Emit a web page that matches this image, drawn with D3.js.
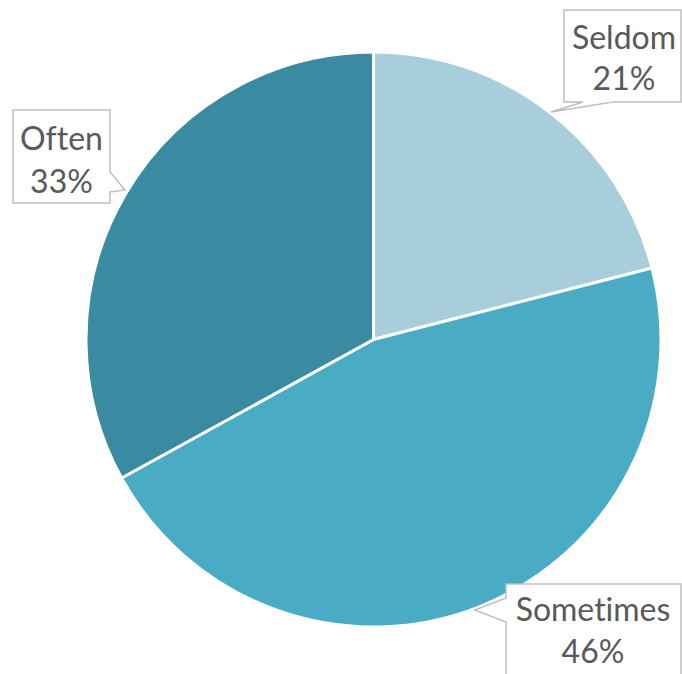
<!DOCTYPE html>
<html>
<head>
<meta charset="utf-8">
<script src="https://cdn.jsdelivr.net/npm/d3@7"></script>
<style>
  html, body { margin: 0; padding: 0; background: #fff; }
  svg { display: block; }
  text { font-variant-ligatures: none; font-feature-settings: "liga" 0; }
</style>
</head>
<body>
<svg id="chart" width="682" height="674"></svg>
<script>
// Survey answer shares (percent)
const categories = ["Seldom", "Sometimes", "Often"];
const values = [21, 46, 33];
const colors = ["#A8CEDC", "#4AABC5", "#3A8BA1"];

const width = 682, height = 674;
const cx = 373.5, cy = 339.5, radius = 287.5;

const svg = d3.select("#chart");

const pie = d3.pie().sort(null).value(d => d.value);
const arcs = pie(categories.map((c, i) => ({ name: c, value: values[i] })));
const arc = d3.arc().innerRadius(0).outerRadius(radius);

const g = svg.append("g").attr("transform", `translate(${cx},${cy})`);
g.selectAll("path.slice")
  .data(arcs)
  .join("path")
  .attr("class", "slice")
  .attr("d", arc)
  .attr("fill", (d, i) => colors[i])
  .attr("stroke", "#fff")
  .attr("stroke-width", 3)
  .attr("stroke-linejoin", "round");

// Callout boxes: rectangle with a small pointer towards the slice edge
const callouts = {
  Seldom:    { x0: 564, y0: 10,  x1: 681, y1: 102, side: "bottom", p: [583, 613], tip: [551, 112], tx: 624, ty: [49, 90] },
  Sometimes: { x0: 506, y0: 584, x1: 681, y1: 700, side: "left",   p: [598, 622], tip: [475, 610], tx: 593, ty: [621, 663] },
  Often:     { x0: 13,  y0: 110, x1: 110, y1: 203, side: "right",  p: [172, 192], tip: [125, 190], tx: 61.5, ty: [150, 193] }
};

function calloutPath(c) {
  const { x0, y0, x1, y1, side, p, tip } = c;
  const pts = [];
  if (side === "bottom") {
    pts.push([x0, y0], [x1, y0], [x1, y1], [p[1], y1], tip, [p[0], y1], [x0, y1]);
  } else if (side === "left") {
    pts.push([x0, y0], [x1, y0], [x1, y1], [x0, y1], [x0, p[1]], tip, [x0, p[0]]);
  } else {
    pts.push([x0, y0], [x1, y0], [x1, p[0]], tip, [x1, p[1]], [x1, y1], [x0, y1]);
  }
  return "M" + pts.map(q => q.join(",")).join("L") + "Z";
}

const labels = svg.append("g");
arcs.forEach(a => {
  const name = a.data.name;
  const c = callouts[name];
  labels.append("path")
    .attr("d", calloutPath(c))
    .attr("fill", "#fff")
    .attr("stroke", "#BFBFBF")
    .attr("stroke-width", 1.5);
  const t = labels.append("text")
    .attr("text-anchor", "middle")
    .attr("font-family", "Lato, 'Open Sans', sans-serif")
    .attr("font-size", 32)
    .attr("fill", "#595959");
  t.append("tspan").attr("x", c.tx).attr("y", c.ty[0]).text(name);
  t.append("tspan").attr("x", c.tx).attr("y", c.ty[1]).text(d3.format(".0f")(a.data.value) + "%");
});
</script>
</body>
</html>
